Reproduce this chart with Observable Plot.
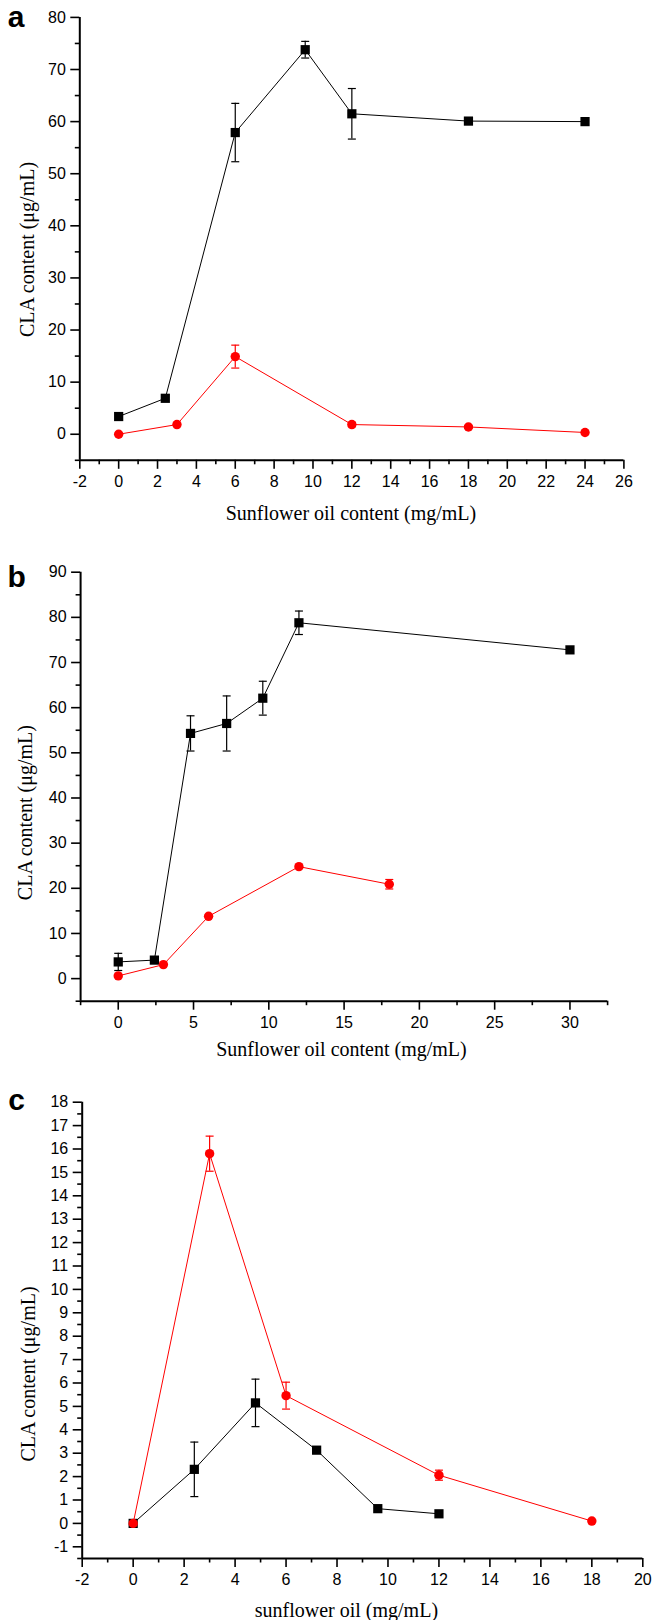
<!DOCTYPE html>
<html><head><meta charset="utf-8">
<script src="https://cdn.jsdelivr.net/npm/d3@7"></script>
<script src="https://cdn.jsdelivr.net/npm/@observablehq/plot@0.6"></script>
<style>
body{margin:0;background:#fff;}
.panel{position:relative;width:672px;height:540px;}
</style></head><body><div id="root"></div>
<script>
// ---------- Panel a ----------
const aSquareX = [0, 2.4, 6, 9.6, 12, 18, 24];
const aSquareY = [3.4, 6.9, 57.9, 73.8, 61.5, 60.1, 60.0];
const aSquareErr = [0, 0, 5.6, 1.6, 4.85, 0, 0];
const aCircleX = [0, 3, 6, 12, 18, 24];
const aCircleY = [0, 1.86, 14.9, 1.86, 1.4, 0.34];
const aCircleErr = [0, 0, 2.2, 0.4, 0.3, 0];
const aXTicks = [-2, 0, 2, 4, 6, 8, 10, 12, 14, 16, 18, 20, 22, 24, 26];
const aYTicks = [0, 10, 20, 30, 40, 50, 60, 70, 80];

// ---------- Panel b ----------
const bSquareX = [0, 2.4, 4.8, 7.2, 9.6, 12, 30];
const bSquareY = [3.7, 4.1, 54.3, 56.5, 62.1, 78.8, 72.8];
const bSquareErr = [1.9, 0, 3.9, 6.1, 3.75, 2.6, 0];
const bCircleX = [0, 3, 6, 12, 18];
const bCircleY = [0.6, 3.1, 13.8, 24.8, 20.9];
const bCircleErr = [0, 0, 0, 0, 1.05];
const bXTicks = [0, 5, 10, 15, 20, 25, 30];
const bYTicks = [0, 10, 20, 30, 40, 50, 60, 70, 80, 90];

// ---------- Panel c ----------
const cSquareX = [0, 2.4, 4.8, 7.2, 9.6, 12];
const cSquareY = [0, 2.31, 5.15, 3.13, 0.63, 0.41];
const cSquareErr = [0, 1.165, 1.015, 0, 0, 0];
const cCircleX = [0, 3, 6, 12, 18];
const cCircleY = [0, 15.8, 5.46, 2.06, 0.1];
const cCircleErr = [0, 0.75, 0.575, 0.215, 0];
const cXTicks = [-2, 0, 2, 4, 6, 8, 10, 12, 14, 16, 18, 20];
const cYTicks = [-1, 0, 1, 2, 3, 4, 5, 6, 7, 8, 9, 10, 11, 12, 13, 14, 15, 16, 17, 18];

const RED = "#ff0000";
const capSymbol = {draw(ctx) { ctx.moveTo(-4, 0); ctx.lineTo(4, 0); }};

function rows(xs, ys, es) { return xs.map((x, i) => ({x, y: ys[i], e: es[i]})); }

function panel(cfg) {
  const sq = rows(cfg.sqX, cfg.sqY, cfg.sqE);
  const ci = rows(cfg.ciX, cfg.ciY, cfg.ciE);
  const errMarks = (data, color) => {
    const d = data.filter(r => r.e > 0);
    return [
      Plot.ruleX(d, {x: "x", y1: r => r.y - r.e, y2: r => r.y + r.e, stroke: color, strokeWidth: 1.2}),
      Plot.dot(d, {x: "x", y: r => r.y - r.e, symbol: capSymbol, fill: "none", stroke: color, strokeWidth: 1.2}),
      Plot.dot(d, {x: "x", y: r => r.y + r.e, symbol: capSymbol, fill: "none", stroke: color, strokeWidth: 1.2})
    ];
  };
  const fs = cfg.fontSize;
  const squares = [
    Plot.line(sq, {x: "x", y: "y", stroke: "black", strokeWidth: 1}),
    ...errMarks(sq, "black"),
    Plot.dot(sq, {x: "x", y: "y", symbol: "square", r: 5.2, fill: "black", stroke: "none"})
  ];
  const circles = [
    Plot.line(ci, {x: "x", y: "y", stroke: RED, strokeWidth: 1}),
    ...errMarks(ci, RED),
    Plot.dot(ci, {x: "x", y: "y", symbol: "circle", r: 4.7, fill: RED, stroke: "none"})
  ];
  const svg = Plot.plot({
    width: 672, height: 540,
    marginLeft: cfg.m[0], marginRight: cfg.m[1], marginTop: cfg.m[2], marginBottom: cfg.m[3],
    style: {fontFamily: "'Liberation Sans', Arial, Helvetica, sans-serif", fontSize: fs + "px", color: "black", background: "white"},
    x: {domain: cfg.xDomain},
    y: {domain: cfg.yDomain},
    marks: [
      Plot.axisX(cfg.xMinor, {tickSize: 4.5, tickFormat: () => "", label: null, strokeWidth: 1.6}),
      Plot.axisX(cfg.xTicks, {tickSize: 9, tickPadding: 6, tickFormat: d => String(d), label: null, strokeWidth: 1.6, fontSize: fs}),
      Plot.axisY(cfg.yMinor, {tickSize: 4.5, tickFormat: () => "", label: null, strokeWidth: 1.6}),
      Plot.axisY(cfg.yTicks, {tickSize: 9, tickPadding: 5, tickFormat: d => String(d), label: null, strokeWidth: 1.6, fontSize: fs}),
      Plot.ruleY([cfg.yDomain[0]], {stroke: "black", strokeWidth: 2}),
      Plot.ruleX([cfg.xDomain[0]], {stroke: "black", strokeWidth: 2}),
      ...(cfg.circlesOnTop ? [...squares, ...circles] : [...circles, ...squares])
    ]
  });
  const s = d3.select(svg);
  // force tick-label font on every library text element
  s.selectAll("text")
    .style("font-size", fs + "px")
    .style("font-family", "'Liberation Sans', Arial, Helvetica, sans-serif")
    .style("fill", "black");
  s.append("text").text(cfg.letter)
    .attr("x", cfg.letterPos[0]).attr("y", cfg.letterPos[1])
    .attr("style", "font-family:'Liberation Sans', Arial, sans-serif;font-weight:bold;font-size:30px;fill:black");
  s.append("text").text(cfg.xTitle)
    .attr("x", cfg.xTitlePos[0]).attr("y", cfg.xTitlePos[1]).attr("text-anchor", "middle")
    .attr("style", "font-family:'Liberation Serif', 'Times New Roman', serif;font-size:20px;fill:black");
  s.append("text").text("CLA content (μg/mL)")
    .attr("transform", `translate(${cfg.yTitlePos[0]},${cfg.yTitlePos[1]}) rotate(-90)`).attr("text-anchor", "middle")
    .attr("style", "font-family:'Liberation Serif', 'Times New Roman', serif;font-size:20px;fill:black");
  const div = document.createElement("div");
  div.className = "panel " + cfg.letter;
  div.appendChild(svg);
  document.getElementById("root").appendChild(div);
}

panel({
  letter: "a", letterPos: [16, 27.3],
  xTitle: "Sunflower oil content (mg/mL)", xTitlePos: [351, 520], yTitlePos: [33.5, 249.5],
  m: [79.3, 48.6, 16.9, 80.2], fontSize: 16,
  xDomain: [-2, 26], yDomain: [-5, 80],
  xTicks: aXTicks, xMinor: d3.range(-1, 26, 2),
  yTicks: aYTicks, yMinor: d3.range(-5, 80, 10),
  sqX: aSquareX, sqY: aSquareY, sqE: aSquareErr,
  ciX: aCircleX, ciY: aCircleY, ciE: aCircleErr, circlesOnTop: true
});
panel({
  letter: "b", letterPos: [16.7, 46.7],
  xTitle: "Sunflower oil content (mg/mL)", xTitlePos: [341.5, 515.7], yTitlePos: [32.3, 272.6],
  m: [80.1, 64.9, 31.7, 79.3], fontSize: 16,
  xDomain: [-2.5, 32.5], yDomain: [-5, 90],
  xTicks: bXTicks, xMinor: d3.range(-2.5, 33, 5),
  yTicks: bYTicks, yMinor: d3.range(-5, 90, 10),
  sqX: bSquareX, sqY: bSquareY, sqE: bSquareErr,
  ciX: bCircleX, ciY: bCircleY, ciE: bCircleErr, circlesOnTop: true
});
panel({
  letter: "c", letterPos: [16.7, 30],
  xTitle: "sunflower oil (mg/mL)", xTitlePos: [346.4, 537], yTitlePos: [34.5, 294],
  m: [81.7, 29.7, 21.7, 62], fontSize: 16,
  xDomain: [-2, 20], yDomain: [-1.5, 18],
  xTicks: cXTicks, xMinor: d3.range(-1, 20, 2),
  yTicks: cYTicks, yMinor: d3.range(-1.5, 18, 1),
  sqX: cSquareX, sqY: cSquareY, sqE: cSquareErr,
  ciX: cCircleX, ciY: cCircleY, ciE: cCircleErr, circlesOnTop: true
});
</script></body></html>
